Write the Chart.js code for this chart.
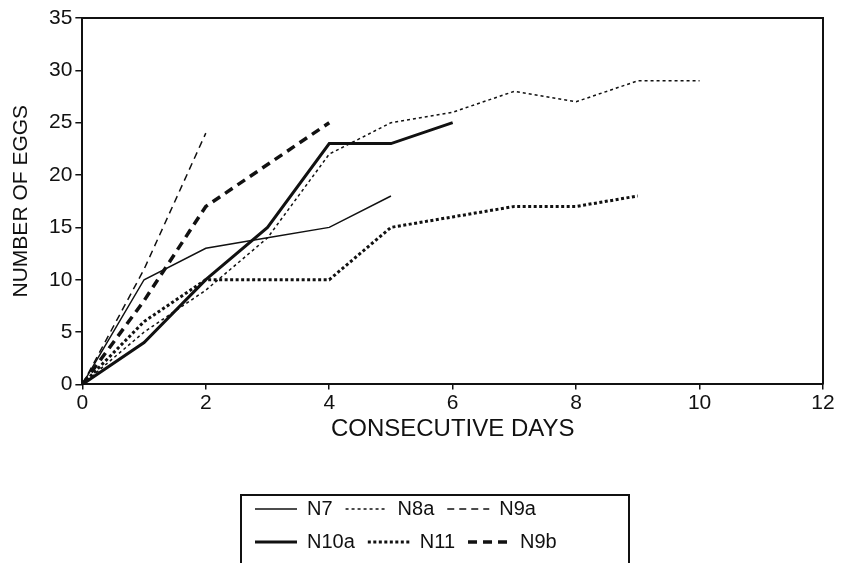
<!DOCTYPE html>
<html>
<head>
<meta charset="utf-8">
<script src="https://cdn.jsdelivr.net/npm/chart.js@4.4.1/dist/chart.umd.min.js"></script>
<style>
  html, body { margin: 0; padding: 0; background: #fff; overflow: hidden; }
  #wrap { position: relative; width: 842px; height: 563px; }
  #legendBox {
    position: absolute; left: 240px; top: 494px; width: 386px; height: 80px;
    border: 2px solid #111; overflow: hidden; background: #fff;
  }
  #legendBox canvas { position: absolute; left: 0; top: -10px; }
</style>
</head>
<body>
<div id="wrap">
  <canvas id="eggs" width="842" height="563"></canvas>
  <div id="legendBox"><canvas id="legend" width="386" height="240"></canvas></div>
</div>
<script>
// eggs counted per nest, one value per day starting at day 0
const days = [0, 1, 2, 3, 4, 5, 6, 7, 8, 9, 10];
const n7   = [0, 10, 13, 14, 15, 18];
const n8a  = [0, 5, 9, 14, 22, 25, 26, 28, 27, 29, 29];
const n9a  = [0, 11, 24];
const n10a = [0, 4, 10, 15, 23, 23, 25];
const n11  = [0, 6, 10, 10, 10, 15, 16, 17, 17, 18];
const n9b  = [0, 8, 17, 21, 25];

const dayTicks = [0, 2, 4, 6, 8, 10, 12];
const eggTicks = [0, 5, 10, 15, 20, 25, 30, 35];

const INK = '#111';
const SANS = "'Liberation Sans', Arial, sans-serif";

// line style of each nest (same order as the legend, row by row)
const nests = [
  { label: 'N7',   data: n7,   width: 1.5, dash: [] },
  { label: 'N8a',  data: n8a,  width: 1.5, dash: [3, 3] },
  { label: 'N9a',  data: n9a,  width: 1.5, dash: [7, 5] },
  { label: 'N10a', data: n10a, width: 3,   dash: [] },
  { label: 'N11',  data: n11,  width: 3,   dash: [3, 2.5] },
  { label: 'N9b',  data: n9b,  width: 3.5, dash: [9, 6] },
];

function makeDatasets(withData) {
  return nests.map(n => ({
    label: n.label,
    data: withData ? n.data : [],
    borderColor: INK,
    backgroundColor: INK,
    borderWidth: n.width,
    borderDash: n.dash,
    borderCapStyle: 'butt',
    pointRadius: 0,
    tension: 0,
    fill: false,
  }));
}

// top and right side of the frame around the plot
const frame = {
  id: 'frame',
  afterDatasetsDraw(chart) {
    const { ctx, chartArea: a } = chart;
    ctx.save();
    ctx.strokeStyle = INK;
    ctx.lineWidth = 2;
    ctx.beginPath();
    ctx.moveTo(a.left, a.top);
    ctx.lineTo(a.right, a.top);
    ctx.lineTo(a.right, a.bottom);
    ctx.stroke();
    ctx.restore();
  }
};

new Chart(document.getElementById('eggs'), {
  type: 'line',
  data: { labels: days, datasets: makeDatasets(true) },
  options: {
    responsive: false,
    animation: false,
    layout: { padding: { left: 11, right: 19, top: 18, bottom: 120 } },
    plugins: { legend: { display: false }, tooltip: { enabled: false } },
    scales: {
      x: {
        type: 'linear',
        min: 0,
        max: 12,
        afterBuildTicks: s => { s.ticks = dayTicks.map(v => ({ value: v })); },
        ticks: { color: INK, padding: 1, font: { family: SANS, size: 21 } },
        grid: { drawOnChartArea: false, tickLength: 5, color: INK, lineWidth: 1.5 },
        border: { display: true, color: INK, width: 2 },
        title: {
          display: true, text: 'CONSECUTIVE DAYS', color: INK,
          font: { family: SANS, size: 24, lineHeight: 1.1 }, padding: { top: 0, bottom: 0 }
        }
      },
      y: {
        min: 0,
        max: 35,
        afterBuildTicks: s => { s.ticks = eggTicks.map(v => ({ value: v })); },
        ticks: { color: INK, padding: 3, font: { family: SANS, size: 21 } },
        grid: { drawOnChartArea: false, tickLength: 7, color: INK, lineWidth: 1.5 },
        border: { display: true, color: INK, width: 2 },
        title: {
          display: true, text: 'NUMBER OF EGGS', color: INK,
          font: { family: SANS, size: 21, lineHeight: 1 }, padding: { top: 0, bottom: 14 }
        }
      }
    }
  },
  plugins: [frame]
});

// legend drawn by a second chart that only carries the series styles
new Chart(document.getElementById('legend'), {
  type: 'line',
  data: { labels: days, datasets: makeDatasets(false) },
  options: {
    responsive: false,
    animation: false,
    layout: { padding: 0 },
    scales: { x: { display: false }, y: { display: false } },
    plugins: {
      tooltip: { enabled: false },
      legend: {
        position: 'top',
        align: 'start',
        onClick: () => {},
        labels: {
          usePointStyle: true,
          pointStyle: 'line',
          pointStyleWidth: 42,
          padding: 13,
          color: INK,
          font: { family: SANS, size: 20 },
          generateLabels(chart) {
            const items = Chart.defaults.plugins.legend.labels.generateLabels(chart);
            items.forEach(it => {
              const ds = chart.data.datasets[it.datasetIndex];
              it.lineDash = ds.borderDash;
              it.lineWidth = ds.borderWidth;
              it.strokeStyle = ds.borderColor;
              it.pointStyle = 'line';
            });
            return items;
          }
        }
      }
    }
  }
});
</script>
</body>
</html>
